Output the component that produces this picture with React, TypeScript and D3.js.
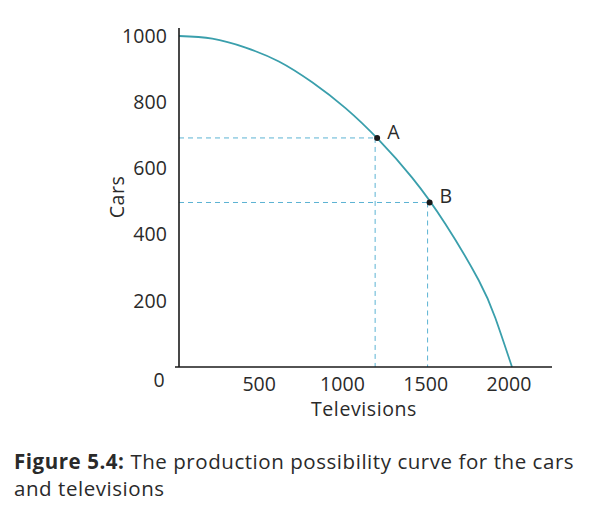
import React from "react";
import * as d3 from "d3";

const curveTelevisions = [0, 200, 400, 600, 800, 1000, 1200, 1400, 1600, 1800, 1900, 2000];
const curveCars = [1000, 992, 965, 923, 860, 782, 686, 572, 432, 262, 148, 0];

const pointNames = ["A", "B"];
const pointTelevisions = [1190, 1505];
const pointCars = [692, 497];

const xTicks = [500, 1000, 1500, 2000];
const yTicks = [200, 400, 600, 800, 1000];

const FONT = "'Open Sans', Lato, sans-serif";

export default function App() {
  const x = d3.scaleLinear().domain([0, 2000]).range([179, 512]);
  const y = d3.scaleLinear().domain([0, 1000]).range([367, 36]);

  const data = curveTelevisions.map((t, i) => [t, curveCars[i]] as [number, number]);
  const line = d3
    .line<[number, number]>()
    .x((d) => x(d[0]))
    .y((d) => y(d[1]))
    .curve(d3.curveNatural);

  const textColor = "#2a2a2a";
  const fs = 19.5;

  return (
    <svg
      width={600}
      height={507}
      style={{ position: "absolute", left: 0, top: 0, background: "#fff" }}
      fontFamily={FONT}
    >
      {/* dashed guides */}
      {pointNames.map((n, i) => (
        <g key={n} stroke="#5cb3d3" strokeWidth={1} strokeDasharray="5,4" fill="none">
          <line x1={x(0)} x2={x(pointTelevisions[i])} y1={y(pointCars[i])} y2={y(pointCars[i])} />
          <line
            x1={x(pointTelevisions[i]) - 2}
            x2={x(pointTelevisions[i]) - 2}
            y1={y(pointCars[i])}
            y2={y(0)}
          />
        </g>
      ))}

      {/* curve */}
      <path d={line(data) || ""} fill="none" stroke="#3a9fac" strokeWidth={1.8} />

      {/* axes */}
      <line x1={179} x2={179} y1={28} y2={y(0)} stroke="#1a1a1a" strokeWidth={1.6} />
      <line x1={175} x2={552} y1={y(0)} y2={y(0)} stroke="#1a1a1a" strokeWidth={1.6} />

      {/* y tick labels */}
      {yTicks.map((t) => (
        <text
          key={t}
          x={167}
          y={y(t)}
          dy="0.35em"
          textAnchor="end"
          fontSize={fs}
          fill={textColor}
          letterSpacing={0.1}
        >
          {t}
        </text>
      ))}
      <text x={159} y={380} dy="0.35em" textAnchor="middle" fontSize={fs} fill={textColor}>
        0
      </text>

      {/* x tick labels */}
      {xTicks.map((t) => (
        <text
          key={t}
          x={x(t) - 3}
          y={384}
          dy="0.35em"
          textAnchor="middle"
          fontSize={fs}
          fill={textColor}
          letterSpacing={0.1}
        >
          {t}
        </text>
      ))}

      {/* axis titles */}
      <text
        transform={`translate(117,197) rotate(-90)`}
        textAnchor="middle"
        dy="0.35em"
        fontSize={fs}
        fill={textColor}
        letterSpacing={0.5}
      >
        Cars
      </text>
      <text
        x={364}
        y={409}
        dy="0.35em"
        textAnchor="middle"
        fontSize={fs}
        fill={textColor}
        letterSpacing={0.6}
      >
        Televisions
      </text>

      {/* points */}
      {pointNames.map((n, i) => (
        <g key={n}>
          <circle cx={x(pointTelevisions[i])} cy={y(pointCars[i])} r={3} fill="#1a1a1a" />
          <text
            x={x(pointTelevisions[i]) + 10}
            y={y(pointCars[i]) - 6}
            dy="0.35em"
            textAnchor="start"
            fontSize={fs}
            fill={textColor}
          >
            {n}
          </text>
        </g>
      ))}

      {/* caption */}
      <text x={14} y={469} fontSize={20.5} fill="#2a2a2a" letterSpacing={0.55}>
        <tspan fontWeight="bold">Figure 5.4:</tspan>
        <tspan> The production possibility curve for the cars</tspan>
      </text>
      <text x={14} y={496} fontSize={20.5} fill="#2a2a2a" letterSpacing={0.55}>
        and televisions
      </text>
    </svg>
  );
}
